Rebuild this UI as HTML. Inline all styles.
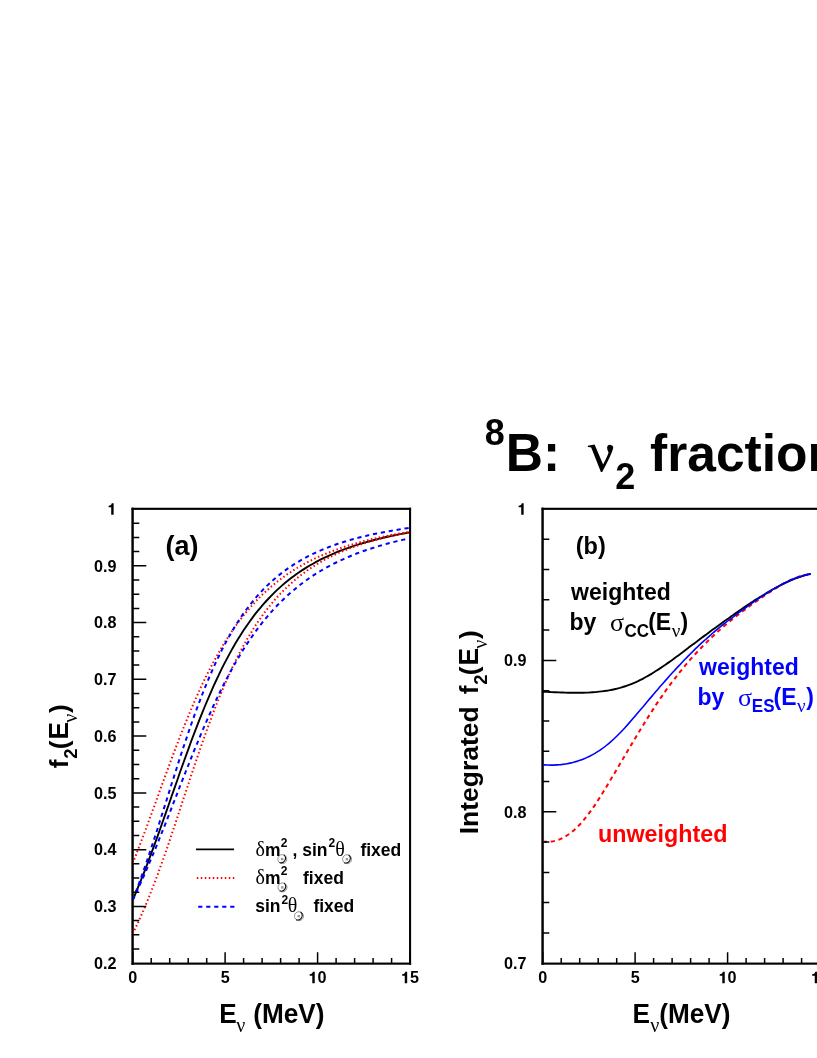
<!DOCTYPE html><html><head><meta charset="utf-8"><title>8B nu2 fraction</title>
<style>html,body{margin:0;padding:0;background:#fff}svg{display:block}text{font-family:"Liberation Sans",sans-serif;font-weight:bold;white-space:pre}.g{font-family:"Liberation Serif",serif;font-weight:normal}</style></head><body>
<svg width="817" height="1058" viewBox="0 0 817 1058">
<rect width="100%" height="100%" fill="#fff"/>
<g opacity="0.999">
<defs><clipPath id="ca"><rect x="132.7" y="509.0" width="277.3" height="454.2"/></clipPath></defs>
<g fill="#000"><rect x="131.60" y="507.75" width="2.2" height="456.95"/><rect x="409.04" y="507.75" width="2.07" height="456.95"/><rect x="131.60" y="507.75" width="279.51" height="2.15"/><rect x="131.60" y="962.55" width="279.51" height="2.15"/></g>
<g fill="#000"><rect x="541.60" y="507.75" width="2.2" height="456.95"/><rect x="819.04" y="507.75" width="2.07" height="456.95"/><rect x="541.60" y="507.75" width="279.51" height="2.15"/><rect x="541.60" y="962.55" width="279.51" height="2.15"/></g>
<g fill="none" clip-path="url(#ca)">
<path d="M132.7,900.0 L135.5,893.5 L138.2,886.9 L141.0,880.1 L143.8,873.1 L146.6,865.9 L149.3,858.6 L152.1,851.2 L154.9,843.6 L157.7,835.9 L160.4,828.2 L163.2,820.3 L166.0,812.4 L168.8,804.5 L171.5,796.5 L174.3,788.6 L177.1,780.7 L179.8,772.8 L182.6,765.0 L185.4,757.2 L188.2,749.6 L190.9,742.0 L193.7,734.6 L196.5,727.4 L199.3,720.2 L202.0,713.3 L204.8,706.5 L207.6,699.8 L210.4,693.4 L213.1,687.1 L215.9,681.0 L218.7,675.1 L221.4,669.4 L224.2,663.9 L227.0,658.6 L229.8,653.4 L232.5,648.4 L235.3,643.6 L238.1,639.0 L240.9,634.6 L243.6,630.3 L246.4,626.2 L249.2,622.2 L252.0,618.4 L254.7,614.7 L257.5,611.2 L260.3,607.8 L263.0,604.6 L265.8,601.5 L268.6,598.5 L271.4,595.6 L274.1,592.8 L276.9,590.1 L279.7,587.6 L282.5,585.1 L285.2,582.8 L288.0,580.5 L290.8,578.3 L293.6,576.2 L296.3,574.2 L299.1,572.3 L301.9,570.4 L304.7,568.6 L307.4,566.9 L310.2,565.3 L313.0,563.7 L315.7,562.1 L318.5,560.7 L321.3,559.2 L324.1,557.9 L326.8,556.6 L329.6,555.3 L332.4,554.1 L335.2,552.9 L337.9,551.7 L340.7,550.6 L343.5,549.6 L346.3,548.6 L349.0,547.6 L351.8,546.6 L354.6,545.7 L357.3,544.8 L360.1,543.9 L362.9,543.1 L365.7,542.3 L368.4,541.5 L371.2,540.8 L374.0,540.0 L376.8,539.3 L379.5,538.6 L382.3,538.0 L385.1,537.3 L387.9,536.7 L390.6,536.1 L393.4,535.5 L396.2,535.0 L398.9,534.4 L401.7,533.9 L404.5,533.4 L407.3,532.9 L410.0,532.4" stroke="#000" stroke-width="1.9"/>
<path d="M132.7,863.3 L135.5,856.3 L138.2,849.1 L141.0,841.9 L143.8,834.5 L146.6,827.1 L149.3,819.5 L152.1,812.0 L154.9,804.4 L157.7,796.7 L160.4,789.1 L163.2,781.5 L166.0,773.9 L168.8,766.4 L171.5,758.9 L174.3,751.6 L177.1,744.3 L179.8,737.1 L182.6,730.1 L185.4,723.1 L188.2,716.4 L190.9,709.7 L193.7,703.3 L196.5,696.9 L199.3,690.8 L202.0,684.8 L204.8,679.0 L207.6,673.4 L210.4,667.9 L213.1,662.7 L215.9,657.6 L218.7,652.6 L221.4,647.9 L224.2,643.2 L227.0,638.8 L229.8,634.5 L232.5,630.4 L235.3,626.4 L238.1,622.6 L240.9,618.9 L243.6,615.4 L246.4,611.9 L249.2,608.7 L252.0,605.5 L254.7,602.5 L257.5,599.5 L260.3,596.7 L263.0,594.0 L265.8,591.4 L268.6,588.9 L271.4,586.5 L274.1,584.2 L276.9,581.9 L279.7,579.8 L282.5,577.7 L285.2,575.7 L288.0,573.8 L290.8,572.0 L293.6,570.2 L296.3,568.5 L299.1,566.8 L301.9,565.3 L304.7,563.7 L307.4,562.3 L310.2,560.8 L313.0,559.5 L315.7,558.1 L318.5,556.9 L321.3,555.6 L324.1,554.5 L326.8,553.3 L329.6,552.2 L332.4,551.1 L335.2,550.1 L337.9,549.1 L340.7,548.1 L343.5,547.2 L346.3,546.3 L349.0,545.4 L351.8,544.6 L354.6,543.7 L357.3,543.0 L360.1,542.2 L362.9,541.4 L365.7,540.7 L368.4,540.0 L371.2,539.3 L374.0,538.7 L376.8,538.1 L379.5,537.4 L382.3,536.8 L385.1,536.3 L387.9,535.7 L390.6,535.1 L393.4,534.6 L396.2,534.1 L398.9,533.6 L401.7,533.1 L404.5,532.6 L407.3,532.2 L410.0,531.7" stroke="#f00" stroke-width="2" stroke-dasharray="1.5 2.5"/>
<path d="M132.7,933.7 L135.5,928.0 L138.2,922.1 L141.0,915.9 L143.8,909.6 L146.6,903.0 L149.3,896.2 L152.1,889.1 L154.9,881.9 L157.7,874.5 L160.4,866.9 L163.2,859.1 L166.0,851.2 L168.8,843.1 L171.5,834.9 L174.3,826.6 L177.1,818.3 L179.8,809.9 L182.6,801.4 L185.4,793.0 L188.2,784.6 L190.9,776.2 L193.7,767.9 L196.5,759.7 L199.3,751.5 L202.0,743.6 L204.8,735.7 L207.6,728.0 L210.4,720.5 L213.1,713.1 L215.9,705.9 L218.7,698.9 L221.4,692.2 L224.2,685.6 L227.0,679.2 L229.8,673.1 L232.5,667.1 L235.3,661.4 L238.1,655.8 L240.9,650.5 L243.6,645.4 L246.4,640.4 L249.2,635.7 L252.0,631.1 L254.7,626.7 L257.5,622.5 L260.3,618.5 L263.0,614.6 L265.8,610.9 L268.6,607.3 L271.4,603.9 L274.1,600.6 L276.9,597.5 L279.7,594.5 L282.5,591.6 L285.2,588.8 L288.0,586.2 L290.8,583.6 L293.6,581.2 L296.3,578.8 L299.1,576.6 L301.9,574.5 L304.7,572.4 L307.4,570.4 L310.2,568.5 L313.0,566.7 L315.7,565.0 L318.5,563.3 L321.3,561.7 L324.1,560.1 L326.8,558.6 L329.6,557.2 L332.4,555.8 L335.2,554.5 L337.9,553.2 L340.7,552.0 L343.5,550.8 L346.3,549.7 L349.0,548.6 L351.8,547.5 L354.6,546.5 L357.3,545.5 L360.1,544.6 L362.9,543.7 L365.7,542.8 L368.4,542.0 L371.2,541.2 L374.0,540.4 L376.8,539.6 L379.5,538.9 L382.3,538.1 L385.1,537.5 L387.9,536.8 L390.6,536.2 L393.4,535.5 L396.2,534.9 L398.9,534.3 L401.7,533.8 L404.5,533.2 L407.3,532.7 L410.0,532.2" stroke="#f00" stroke-width="2" stroke-dasharray="1.5 2.5"/>
<path d="M132.7,900.0 L135.5,892.8 L138.2,885.4 L141.0,877.8 L143.8,869.9 L146.6,861.9 L149.3,853.7 L152.1,845.4 L154.9,836.9 L157.7,828.3 L160.4,819.5 L163.2,810.8 L166.0,802.0 L168.8,793.1 L171.5,784.3 L174.3,775.6 L177.1,766.9 L179.8,758.2 L182.6,749.7 L185.4,741.4 L188.2,733.2 L190.9,725.2 L193.7,717.3 L196.5,709.7 L199.3,702.2 L202.0,695.0 L204.8,688.0 L207.6,681.2 L210.4,674.7 L213.1,668.4 L215.9,662.3 L218.7,656.5 L221.4,650.8 L224.2,645.4 L227.0,640.2 L229.8,635.3 L232.5,630.5 L235.3,625.9 L238.1,621.5 L240.9,617.3 L243.6,613.3 L246.4,609.5 L249.2,605.8 L252.0,602.3 L254.7,598.9 L257.5,595.7 L260.3,592.7 L263.0,589.7 L265.8,586.9 L268.6,584.2 L271.4,581.7 L274.1,579.2 L276.9,576.8 L279.7,574.6 L282.5,572.4 L285.2,570.4 L288.0,568.4 L290.8,566.5 L293.6,564.7 L296.3,562.9 L299.1,561.3 L301.9,559.7 L304.7,558.1 L307.4,556.7 L310.2,555.2 L313.0,553.9 L315.7,552.6 L318.5,551.3 L321.3,550.1 L324.1,549.0 L326.8,547.9 L329.6,546.8 L332.4,545.8 L335.2,544.8 L337.9,543.8 L340.7,542.9 L343.5,542.0 L346.3,541.2 L349.0,540.3 L351.8,539.5 L354.6,538.8 L357.3,538.0 L360.1,537.3 L362.9,536.6 L365.7,536.0 L368.4,535.3 L371.2,534.7 L374.0,534.1 L376.8,533.5 L379.5,533.0 L382.3,532.4 L385.1,531.9 L387.9,531.4 L390.6,530.9 L393.4,530.4 L396.2,530.0 L398.9,529.5 L401.7,529.1 L404.5,528.6 L407.3,528.2 L410.0,527.8" stroke="#00f" stroke-width="2" stroke-dasharray="4.2 3.8"/>
<path d="M132.7,900.0 L135.5,894.2 L138.2,888.3 L141.0,882.2 L143.8,876.0 L146.6,869.6 L149.3,863.2 L152.1,856.6 L154.9,849.9 L157.7,843.1 L160.4,836.2 L163.2,829.2 L166.0,822.2 L168.8,815.2 L171.5,808.1 L174.3,800.9 L177.1,793.8 L179.8,786.7 L182.6,779.6 L185.4,772.5 L188.2,765.5 L190.9,758.6 L193.7,751.7 L196.5,744.9 L199.3,738.2 L202.0,731.6 L204.8,725.1 L207.6,718.8 L210.4,712.6 L213.1,706.5 L215.9,700.5 L218.7,694.7 L221.4,689.0 L224.2,683.5 L227.0,678.2 L229.8,673.0 L232.5,667.9 L235.3,663.0 L238.1,658.2 L240.9,653.6 L243.6,649.1 L246.4,644.8 L249.2,640.6 L252.0,636.6 L254.7,632.6 L257.5,628.9 L260.3,625.2 L263.0,621.7 L265.8,618.3 L268.6,615.0 L271.4,611.8 L274.1,608.8 L276.9,605.8 L279.7,603.0 L282.5,600.2 L285.2,597.6 L288.0,595.0 L290.8,592.5 L293.6,590.2 L296.3,587.9 L299.1,585.6 L301.9,583.5 L304.7,581.4 L307.4,579.5 L310.2,577.5 L313.0,575.7 L315.7,573.9 L318.5,572.2 L321.3,570.5 L324.1,568.9 L326.8,567.3 L329.6,565.8 L332.4,564.4 L335.2,563.0 L337.9,561.6 L340.7,560.3 L343.5,559.1 L346.3,557.8 L349.0,556.7 L351.8,555.5 L354.6,554.4 L357.3,553.3 L360.1,552.3 L362.9,551.3 L365.7,550.3 L368.4,549.4 L371.2,548.5 L374.0,547.6 L376.8,546.7 L379.5,545.9 L382.3,545.1 L385.1,544.3 L387.9,543.5 L390.6,542.8 L393.4,542.1 L396.2,541.4 L398.9,540.7 L401.7,540.1 L404.5,539.4 L407.3,538.8 L410.0,538.2" stroke="#00f" stroke-width="2" stroke-dasharray="4.2 3.8"/>
</g>
<g fill="none">
<path d="M542.7,841.4 C543.5,841.5 545.7,841.8 547.2,841.8 C548.8,841.8 550.3,841.7 551.8,841.5 C553.3,841.3 554.8,840.9 556.3,840.5 C557.8,840.0 559.4,839.5 560.9,838.8 C562.4,838.1 563.9,837.3 565.4,836.4 C566.9,835.5 568.4,834.5 570.0,833.4 C571.5,832.3 573.0,831.0 574.5,829.7 C576.0,828.3 577.5,826.9 579.1,825.3 C580.6,823.7 582.1,822.0 583.6,820.2 C585.1,818.4 586.6,816.5 588.1,814.5 C589.7,812.5 591.2,810.4 592.7,808.2 C594.2,806.1 595.7,803.8 597.2,801.5 C598.7,799.1 600.3,796.8 601.8,794.3 C603.3,791.9 604.8,789.4 606.3,786.9 C607.8,784.4 609.3,781.9 610.9,779.3 C612.4,776.8 613.9,774.2 615.4,771.7 C616.9,769.1 618.4,766.5 619.9,764.0 C621.5,761.4 623.0,758.8 624.5,756.3 C626.0,753.7 627.5,751.1 629.0,748.6 C630.6,746.0 632.1,743.5 633.6,740.9 C635.1,738.4 636.6,735.9 638.1,733.4 C639.6,730.8 641.2,728.4 642.7,725.9 C644.2,723.4 645.7,721.0 647.2,718.6 C648.7,716.1 650.2,713.8 651.8,711.4 C653.3,709.0 654.8,706.7 656.3,704.4 C657.8,702.1 659.3,699.9 660.8,697.7 C662.4,695.5 663.9,693.3 665.4,691.2 C666.9,689.0 668.4,686.9 669.9,684.9 C671.4,682.8 673.0,680.8 674.5,678.9 C676.0,676.9 677.5,675.0 679.0,673.1 C680.5,671.2 682.1,669.3 683.6,667.5 C685.1,665.7 686.6,663.9 688.1,662.1 C689.6,660.4 691.1,658.6 692.7,656.9 C694.2,655.3 695.7,653.6 697.2,652.0 C698.7,650.4 700.2,648.8 701.7,647.2 C703.3,645.6 704.8,644.1 706.3,642.6 C707.8,641.1 709.3,639.6 710.8,638.2 C712.3,636.7 713.9,635.3 715.4,633.9 C716.9,632.5 718.4,631.1 719.9,629.8 C721.4,628.4 722.9,627.1 724.5,625.8 C726.0,624.5 727.5,623.2 729.0,622.0 C730.5,620.7 732.0,619.5 733.6,618.3 C735.1,617.1 736.6,615.9 738.1,614.7 C739.6,613.5 741.1,612.4 742.6,611.2 C744.2,610.1 745.7,609.0 747.2,607.8 C748.7,606.7 750.2,605.6 751.7,604.5 C753.2,603.5 754.8,602.4 756.3,601.3 C757.8,600.3 759.3,599.2 760.8,598.2 C762.3,597.1 763.8,596.1 765.4,595.1 C766.9,594.0 768.4,593.0 769.9,592.0 C771.4,591.0 772.9,590.1 774.4,589.1 C776.0,588.1 777.5,587.2 779.0,586.3 C780.5,585.4 782.0,584.5 783.5,583.7 C785.1,582.9 786.6,582.0 788.1,581.3 C789.6,580.5 791.1,579.8 792.6,579.2 C794.1,578.5 795.7,577.9 797.2,577.4 C798.7,576.8 800.2,576.3 801.7,575.9 C803.2,575.5 804.7,575.1 806.3,574.8 C807.8,574.6 810.0,574.3 810.8,574.2" stroke="#f00" stroke-width="2" stroke-dasharray="4.3 3.7"/>
<path d="M542.7,691.7 C543.5,691.7 545.7,691.8 547.2,691.9 C548.8,692.0 550.3,692.0 551.8,692.1 C553.3,692.2 554.8,692.2 556.3,692.3 C557.8,692.4 559.4,692.4 560.9,692.5 C562.4,692.5 563.9,692.6 565.4,692.6 C566.9,692.7 568.4,692.7 570.0,692.8 C571.5,692.8 573.0,692.8 574.5,692.8 C576.0,692.8 577.5,692.8 579.1,692.8 C580.6,692.8 582.1,692.8 583.6,692.7 C585.1,692.7 586.6,692.6 588.1,692.6 C589.7,692.5 591.2,692.4 592.7,692.3 C594.2,692.2 595.7,692.1 597.2,691.9 C598.7,691.8 600.3,691.6 601.8,691.4 C603.3,691.2 604.8,691.0 606.3,690.8 C607.8,690.6 609.3,690.3 610.9,690.0 C612.4,689.7 613.9,689.4 615.4,689.0 C616.9,688.7 618.4,688.3 619.9,687.9 C621.5,687.4 623.0,687.0 624.5,686.5 C626.0,686.0 627.5,685.5 629.0,684.9 C630.6,684.4 632.1,683.8 633.6,683.1 C635.1,682.5 636.6,681.8 638.1,681.1 C639.6,680.3 641.2,679.6 642.7,678.8 C644.2,678.0 645.7,677.2 647.2,676.3 C648.7,675.5 650.2,674.6 651.8,673.7 C653.3,672.7 654.8,671.8 656.3,670.8 C657.8,669.9 659.3,668.9 660.8,667.9 C662.4,666.8 663.9,665.8 665.4,664.8 C666.9,663.7 668.4,662.6 669.9,661.6 C671.4,660.5 673.0,659.4 674.5,658.3 C676.0,657.2 677.5,656.0 679.0,654.9 C680.5,653.8 682.1,652.6 683.6,651.5 C685.1,650.4 686.6,649.2 688.1,648.1 C689.6,646.9 691.1,645.8 692.7,644.6 C694.2,643.5 695.7,642.3 697.2,641.2 C698.7,640.1 700.2,638.9 701.7,637.8 C703.3,636.7 704.8,635.5 706.3,634.4 C707.8,633.3 709.3,632.2 710.8,631.0 C712.3,629.9 713.9,628.8 715.4,627.7 C716.9,626.6 718.4,625.5 719.9,624.4 C721.4,623.3 722.9,622.2 724.5,621.1 C726.0,620.0 727.5,619.0 729.0,617.9 C730.5,616.8 732.0,615.7 733.6,614.7 C735.1,613.6 736.6,612.6 738.1,611.5 C739.6,610.5 741.1,609.5 742.6,608.4 C744.2,607.4 745.7,606.4 747.2,605.4 C748.7,604.4 750.2,603.4 751.7,602.4 C753.2,601.4 754.8,600.4 756.3,599.4 C757.8,598.5 759.3,597.5 760.8,596.6 C762.3,595.6 763.8,594.7 765.4,593.8 C766.9,592.8 768.4,591.9 769.9,591.1 C771.4,590.2 772.9,589.3 774.4,588.5 C776.0,587.6 777.5,586.8 779.0,586.0 C780.5,585.2 782.0,584.5 783.5,583.7 C785.1,583.0 786.6,582.3 788.1,581.6 C789.6,580.9 791.1,580.2 792.6,579.6 C794.1,579.0 795.7,578.4 797.2,577.8 C798.7,577.3 800.2,576.8 801.7,576.3 C803.2,575.8 804.7,575.3 806.3,574.9 C807.8,574.5 810.0,574.0 810.8,573.9" stroke="#000" stroke-width="1.9"/>
<path d="M542.7,764.8 C543.5,764.8 545.7,765.0 547.2,765.0 C548.8,765.1 550.3,765.1 551.8,765.1 C553.3,765.1 554.8,765.0 556.3,764.9 C557.8,764.9 559.4,764.7 560.9,764.6 C562.4,764.4 563.9,764.2 565.4,764.0 C566.9,763.7 568.4,763.5 570.0,763.1 C571.5,762.8 573.0,762.4 574.5,762.0 C576.0,761.6 577.5,761.1 579.1,760.6 C580.6,760.1 582.1,759.6 583.6,758.9 C585.1,758.3 586.6,757.7 588.1,756.9 C589.7,756.2 591.2,755.4 592.7,754.6 C594.2,753.8 595.7,752.9 597.2,751.9 C598.7,751.0 600.3,750.0 601.8,748.9 C603.3,747.9 604.8,746.7 606.3,745.5 C607.8,744.3 609.3,743.1 610.9,741.7 C612.4,740.4 613.9,739.0 615.4,737.5 C616.9,736.1 618.4,734.6 619.9,733.0 C621.5,731.4 623.0,729.8 624.5,728.2 C626.0,726.5 627.5,724.8 629.0,723.1 C630.6,721.4 632.1,719.6 633.6,717.8 C635.1,716.1 636.6,714.3 638.1,712.5 C639.6,710.7 641.2,708.9 642.7,707.2 C644.2,705.4 645.7,703.6 647.2,701.8 C648.7,700.0 650.2,698.2 651.8,696.4 C653.3,694.7 654.8,692.9 656.3,691.1 C657.8,689.3 659.3,687.6 660.8,685.8 C662.4,684.1 663.9,682.3 665.4,680.6 C666.9,678.9 668.4,677.2 669.9,675.5 C671.4,673.8 673.0,672.1 674.5,670.5 C676.0,668.8 677.5,667.2 679.0,665.6 C680.5,664.0 682.1,662.4 683.6,660.8 C685.1,659.2 686.6,657.7 688.1,656.1 C689.6,654.6 691.1,653.1 692.7,651.6 C694.2,650.1 695.7,648.6 697.2,647.2 C698.7,645.7 700.2,644.3 701.7,642.9 C703.3,641.5 704.8,640.1 706.3,638.8 C707.8,637.4 709.3,636.1 710.8,634.8 C712.3,633.4 713.9,632.2 715.4,630.9 C716.9,629.6 718.4,628.4 719.9,627.2 C721.4,625.9 722.9,624.7 724.5,623.5 C726.0,622.4 727.5,621.2 729.0,620.0 C730.5,618.9 732.0,617.7 733.6,616.6 C735.1,615.5 736.6,614.3 738.1,613.2 C739.6,612.1 741.1,611.0 742.6,609.9 C744.2,608.8 745.7,607.7 747.2,606.6 C748.7,605.5 750.2,604.4 751.7,603.4 C753.2,602.3 754.8,601.2 756.3,600.2 C757.8,599.1 759.3,598.1 760.8,597.1 C762.3,596.1 763.8,595.1 765.4,594.1 C766.9,593.1 768.4,592.1 769.9,591.2 C771.4,590.3 772.9,589.4 774.4,588.5 C776.0,587.6 777.5,586.7 779.0,585.9 C780.5,585.1 782.0,584.3 783.5,583.5 C785.1,582.7 786.6,582.0 788.1,581.3 C789.6,580.6 791.1,579.9 792.6,579.3 C794.1,578.7 795.7,578.1 797.2,577.6 C798.7,577.1 800.2,576.6 801.7,576.1 C803.2,575.7 804.7,575.3 806.3,574.9 C807.8,574.6 810.0,574.2 810.8,574.1" stroke="#00f" stroke-width="1.6"/>
</g>
<rect x="131.60" y="507.75" width="1.4" height="456.95" fill="#000"/><path d="M132.7,906.4h13.6M132.7,849.7h13.6M132.7,792.9h13.6M132.7,736.1h13.6M132.7,679.3h13.6M132.7,622.5h13.6M132.7,565.8h13.6M132.7,949.0h6.6M132.7,934.8h6.6M132.7,920.6h6.6M132.7,892.2h6.6M132.7,878.0h6.6M132.7,863.8h6.6M132.7,835.5h6.6M132.7,821.3h6.6M132.7,807.1h6.6M132.7,778.7h6.6M132.7,764.5h6.6M132.7,750.3h6.6M132.7,721.9h6.6M132.7,707.7h6.6M132.7,693.5h6.6M132.7,665.1h6.6M132.7,650.9h6.6M132.7,636.7h6.6M132.7,608.4h6.6M132.7,594.2h6.6M132.7,580.0h6.6M132.7,551.6h6.6M132.7,537.4h6.6M132.7,523.2h6.6M132.7,963.6v-11.4M151.2,963.6v-5.6M169.7,963.6v-5.6M188.2,963.6v-5.6M206.7,963.6v-5.6M225.1,963.6v-11.4M243.6,963.6v-5.6M262.1,963.6v-5.6M280.6,963.6v-5.6M299.1,963.6v-5.6M317.6,963.6v-11.4M336.1,963.6v-5.6M354.6,963.6v-5.6M373.1,963.6v-5.6M391.6,963.6v-5.6M410.0,963.6v-11.4" stroke="#000" fill="none" stroke-width="1.5"/>
<rect x="541.60" y="507.75" width="1.4" height="456.95" fill="#000"/><path d="M542.7,811.8h13.6M542.7,660.4h13.6M542.7,932.9h6.6M542.7,902.6h6.6M542.7,872.4h6.6M542.7,842.1h6.6M542.7,781.5h6.6M542.7,751.2h6.6M542.7,721.0h6.6M542.7,690.7h6.6M542.7,630.1h6.6M542.7,599.8h6.6M542.7,569.6h6.6M542.7,539.3h6.6M542.7,963.6v-11.4M561.2,963.6v-5.6M579.7,963.6v-5.6M598.2,963.6v-5.6M616.7,963.6v-5.6M635.1,963.6v-11.4M653.6,963.6v-5.6M672.1,963.6v-5.6M690.6,963.6v-5.6M709.1,963.6v-5.6M727.6,963.6v-11.4M746.1,963.6v-5.6M764.6,963.6v-5.6M783.1,963.6v-5.6M801.6,963.6v-5.6M820.0,963.6v-11.4" stroke="#000" fill="none" stroke-width="1.5"/>
<text transform="translate(93.98,969.00) scale(1,1.040)" font-size="16.2">0.2</text>
<text transform="translate(93.98,912.23) scale(1,1.040)" font-size="16.2">0.3</text>
<text transform="translate(93.98,855.45) scale(1,1.040)" font-size="16.2">0.4</text>
<text transform="translate(93.98,798.67) scale(1,1.040)" font-size="16.2">0.5</text>
<text transform="translate(93.98,741.90) scale(1,1.040)" font-size="16.2">0.6</text>
<text transform="translate(93.98,685.12) scale(1,1.040)" font-size="16.2">0.7</text>
<text transform="translate(93.98,628.35) scale(1,1.040)" font-size="16.2">0.8</text>
<text transform="translate(93.98,571.57) scale(1,1.040)" font-size="16.2">0.9</text>
<path transform="translate(107.49,514.80) scale(0.01620,-0.01620)" d="M69,565V461H230V0H380V709H264C250,630 190,565 69,565Z"/>
<text transform="translate(128.19,983.30) scale(1,1.040)" font-size="16.2">0</text>
<text transform="translate(220.64,983.30) scale(1,1.040)" font-size="16.2">5</text>
<path transform="translate(308.58,983.30) scale(0.01620,-0.01620)" d="M69,565V461H230V0H380V709H264C250,630 190,565 69,565Z"/><text transform="translate(317.59,983.30) scale(1,1.040)" font-size="16.2">0</text>
<path transform="translate(401.03,983.30) scale(0.01620,-0.01620)" d="M69,565V461H230V0H380V709H264C250,630 190,565 69,565Z"/><text transform="translate(410.04,983.30) scale(1,1.040)" font-size="16.2">5</text>
<text transform="translate(503.98,969.00) scale(1,1.040)" font-size="16.2">0.7</text>
<text transform="translate(503.98,817.60) scale(1,1.040)" font-size="16.2">0.8</text>
<text transform="translate(503.98,666.20) scale(1,1.040)" font-size="16.2">0.9</text>
<path transform="translate(517.49,514.80) scale(0.01620,-0.01620)" d="M69,565V461H230V0H380V709H264C250,630 190,565 69,565Z"/>
<text transform="translate(538.19,983.30) scale(1,1.040)" font-size="16.2">0</text>
<text transform="translate(630.64,983.30) scale(1,1.040)" font-size="16.2">5</text>
<path transform="translate(718.58,983.30) scale(0.01620,-0.01620)" d="M69,565V461H230V0H380V709H264C250,630 190,565 69,565Z"/><text transform="translate(727.59,983.30) scale(1,1.040)" font-size="16.2">0</text>
<path transform="translate(811.03,983.30) scale(0.01620,-0.01620)" d="M69,565V461H230V0H380V709H264C250,630 190,565 69,565Z"/><text transform="translate(820.04,983.30) scale(1,1.040)" font-size="16.2">5</text>
<text transform="translate(219.15,1023.40) scale(1,1.040)" font-size="26.2">E</text>
<text transform="translate(236.25,1032.00)" font-size="20" class="g">ν</text>
<text transform="translate(253.20,1023.40) scale(1,1.030)" font-size="26.2">(MeV)</text>
<text transform="translate(632.55,1023.40) scale(1,1.040)" font-size="26.2">E</text>
<text transform="translate(650.25,1032.00)" font-size="20" class="g">ν</text>
<text transform="translate(659.20,1023.40) scale(1,1.030)" font-size="26.2">(MeV)</text>
<g transform="translate(68.0,768.0) rotate(-90)"><text transform="translate(-0.35,0.00)" font-size="26.2">f</text><text transform="translate(9.26,9.20) scale(1,1.040)" font-size="18.5">2</text><text transform="translate(18.80,0.00)" font-size="26.2">(</text><text transform="translate(28.55,0.00) scale(1,1.040)" font-size="26.2">E</text><text transform="translate(45.35,9.00)" font-size="20" class="g">ν</text><text transform="translate(54.97,0.00)" font-size="26.2">)</text></g>
<g transform="translate(478.0,694.0) rotate(-90)"><text transform="translate(-0.35,0.00)" font-size="26.2">f</text><text transform="translate(9.26,9.20) scale(1,1.040)" font-size="18.5">2</text><text transform="translate(18.80,0.00)" font-size="26.2">(</text><text transform="translate(28.55,0.00) scale(1,1.040)" font-size="26.2">E</text><text transform="translate(45.35,9.00)" font-size="20" class="g">ν</text><text transform="translate(54.97,0.00)" font-size="26.2">)</text></g>
<g transform="translate(478,832.6) rotate(-90)"><text transform="translate(-1.77,0.00)" font-size="26.5">Integrated</text></g>
<text transform="translate(165.56,554.50)" font-size="27">(a)</text>
<text transform="translate(575.73,554.00)" font-size="23.5">(b)</text>
<text transform="translate(484.76,445.00) scale(1,1.040)" font-size="36">8</text>
<text transform="translate(505.85,470.50) scale(1,1.040)" font-size="51.5">B:</text>
<path d="M587.8,445.8L594.6,444.6L603.1,464.5Q607.5,456 608.6,452.5Q607,450 607.05,447.3A3.05,3.05 0 1 1 613.1,448.6Q611.5,455 602.2,471.9L600.9,471.9L591.2,447.6Q590,447 587.9,447.1Z"/>
<text transform="translate(615.15,488.60) scale(1,1.040)" font-size="36">2</text>
<text transform="translate(650.12,470.50)" font-size="51.5">fraction</text>
<g fill="none"><path d="M196,849.4H234" stroke="#000" stroke-width="1.9"/><path d="M196.8,877.9H235" stroke="#f00" stroke-width="2" stroke-dasharray="1.5 2.5"/><path d="M198.2,906.7H235" stroke="#00f" stroke-width="2" stroke-dasharray="4.2 3.8"/></g>
<text transform="translate(255.55,856.00)" font-size="20" class="g">δ</text>
<text transform="translate(265.05,856.00)" font-size="17.5">m</text>
<text transform="translate(280.78,847.00)" font-size="12">2</text>
<circle cx="282.3" cy="859.1" r="4.5" fill="none" stroke="#666" stroke-width="0.7"/><path d="M283.84,854.87A4.5,4.5 0 0 1 279.41,862.55" fill="none" stroke="#111" stroke-width="1.1"/><rect x="280.9" y="857.9" width="2.4" height="2.4" fill="#9a9a9a"/>
<text transform="translate(292.41,856.00)" font-size="17.5">,</text>
<text transform="translate(302.28,856.00)" font-size="17.5">sin</text>
<text transform="translate(328.38,847.00)" font-size="12">2</text>
<text transform="translate(335.36,856.00)" font-size="20" class="g">θ</text>
<circle cx="347.1" cy="859.2" r="4.5" fill="none" stroke="#666" stroke-width="0.7"/><path d="M348.64,854.97A4.5,4.5 0 0 1 344.21,862.65" fill="none" stroke="#111" stroke-width="1.1"/><rect x="345.7" y="858.0" width="2.4" height="2.4" fill="#9a9a9a"/>
<text transform="translate(360.40,856.00)" font-size="17.5">fixed</text>
<text transform="translate(255.55,884.20)" font-size="20" class="g">δ</text>
<text transform="translate(265.05,884.20)" font-size="17.5">m</text>
<text transform="translate(280.78,875.30)" font-size="12">2</text>
<circle cx="282.5" cy="887.4" r="4.5" fill="none" stroke="#666" stroke-width="0.7"/><path d="M284.04,883.17A4.5,4.5 0 0 1 279.61,890.85" fill="none" stroke="#111" stroke-width="1.1"/><rect x="281.1" y="886.2" width="2.4" height="2.4" fill="#9a9a9a"/>
<text transform="translate(303.00,884.20)" font-size="17.5">fixed</text>
<text transform="translate(255.28,912.30)" font-size="17.5">sin</text>
<text transform="translate(281.38,904.20)" font-size="12">2</text>
<text transform="translate(287.76,912.30)" font-size="20" class="g">θ</text>
<circle cx="299.0" cy="916.2" r="4.5" fill="none" stroke="#666" stroke-width="0.7"/><path d="M300.54,911.97A4.5,4.5 0 0 1 296.11,919.65" fill="none" stroke="#111" stroke-width="1.1"/><rect x="297.6" y="915.0" width="2.4" height="2.4" fill="#9a9a9a"/>
<text transform="translate(313.40,912.30)" font-size="17.5">fixed</text>
<text transform="translate(571.07,599.70)" font-size="23" fill="#000">weighted</text>
<text transform="translate(569.48,629.90)" font-size="23" fill="#000">by</text>
<text transform="translate(610.11,630.50)" font-size="26" fill="#000" class="g">σ</text>
<text transform="translate(624.40,636.70) scale(1,1.040)" font-size="17" fill="#000">CC</text>
<text transform="translate(648.15,629.90)" font-size="23" fill="#000">(</text>
<text transform="translate(655.76,629.90) scale(1,1.040)" font-size="23" fill="#000">E</text>
<text transform="translate(671.85,637.10)" font-size="19" fill="#000" class="g">ν</text>
<text transform="translate(680.48,629.90)" font-size="23" fill="#000">)</text>
<text transform="translate(699.07,674.90)" font-size="23" fill="#00f">weighted</text>
<text transform="translate(697.48,705.20)" font-size="23" fill="#00f">by</text>
<text transform="translate(738.01,705.80)" font-size="26" fill="#00f" class="g">σ</text>
<text transform="translate(751.86,712.00) scale(1,1.040)" font-size="17" fill="#00f">ES</text>
<text transform="translate(773.55,705.20)" font-size="23" fill="#00f">(</text>
<text transform="translate(781.16,705.20) scale(1,1.040)" font-size="23" fill="#00f">E</text>
<text transform="translate(796.95,712.40)" font-size="19" fill="#00f" class="g">ν</text>
<text transform="translate(806.28,705.20)" font-size="23" fill="#00f">)</text>
<text transform="translate(597.96,841.60)" font-size="23.3" fill="#f00">unweighted</text>
</g></svg></body></html>
